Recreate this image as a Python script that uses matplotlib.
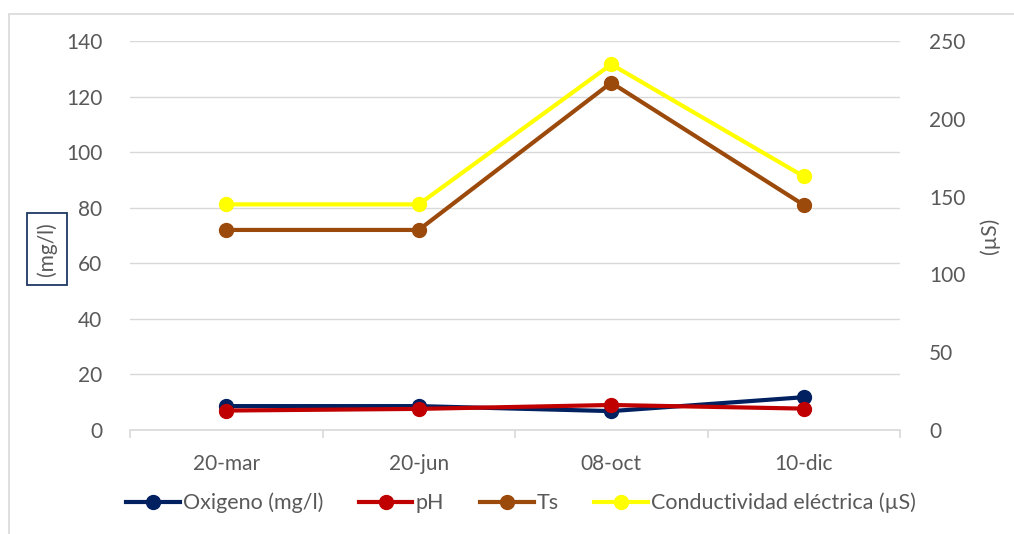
import matplotlib
matplotlib.use("Agg")
import matplotlib.pyplot as plt
from matplotlib.patches import Rectangle
from matplotlib.lines import Line2D

plt.rcParams['font.family'] = ['Lato', 'DejaVu Sans']

categories = ["20-mar", "20-jun", "08-oct", "10-dic"]
oxigeno = [8.6, 8.6, 6.8, 11.8]
ph = [7.0, 7.6, 9.0, 7.7]
ts = [72, 72, 125, 81]
conductividad = [145, 145, 235, 163]

left_ticks = [0, 20, 40, 60, 80, 100, 120, 140]
right_ticks = [0, 50, 100, 150, 200, 250]

C_OX = "#002060"
C_PH = "#C00000"
C_TS = "#9C4A0C"
C_CE = "#FFFF00"
GRID = "#D9D9D9"
TXT = "#595959"

W, H = 1014, 534
fig = plt.figure(figsize=(W / 100, H / 100), dpi=100)
ax = fig.add_axes([130 / W, 1 - 430 / H, 770 / W, 389 / H])
ax2 = ax.twinx()

x = list(range(len(categories)))
lw = 3.0
ms = 10
ax.plot(x, oxigeno, color=C_OX, lw=lw, marker='o', ms=ms, zorder=3, solid_capstyle='round')
ax.plot(x, ph, color=C_PH, lw=lw, marker='o', ms=ms, zorder=4, solid_capstyle='round')
ax.plot(x, ts, color=C_TS, lw=lw, marker='o', ms=ms, zorder=5, solid_capstyle='round')
ax2.plot(x, conductividad, color=C_CE, lw=lw, marker='o', ms=ms, zorder=5, solid_capstyle='round')

ax.set_xlim(-0.5, len(categories) - 0.5)
ax.set_ylim(0, 140)
ax2.set_ylim(0, 250)
ax.set_yticks(left_ticks)
ax2.set_yticks(right_ticks)
ax.set_xticks(x)
ax.set_xticklabels(categories)
ax.set_xticks([i - 0.5 for i in range(len(categories) + 1)], minor=True)

ax.grid(axis='y', color=GRID, lw=1.0, zorder=0)
ax.set_axisbelow(True)
for s in ['left', 'right', 'top']:
    ax.spines[s].set_visible(False)
    ax2.spines[s].set_visible(False)
ax2.spines['bottom'].set_visible(False)
ax.spines['bottom'].set_color(GRID)
ax.spines['bottom'].set_linewidth(1.2)

FS = 15
ax.tick_params(axis='x', which='major', length=0, pad=17, labelsize=FS, labelcolor=TXT)
ax.tick_params(axis='x', which='minor', length=6, color=GRID, width=1.2)
ax.tick_params(axis='y', length=0, pad=20, labelsize=FS, labelcolor=TXT)
ax2.tick_params(axis='y', length=0, pad=21, labelsize=FS, labelcolor=TXT)

fig.text(47 / W, 1 - 249 / H, "(mg/l)", rotation=90, ha='center', va='center',
         fontsize=FS, color=TXT,
         bbox=dict(boxstyle='square,pad=0.45', fc='white', ec='#1F3864', lw=1.3))
fig.text(990 / W, 1 - 236 / H, "(µS)", rotation=90, ha='center', va='center',
         fontsize=FS, color=TXT)

handles = [Line2D([], [], color=c, lw=lw, marker='o', ms=ms) for c in [C_OX, C_PH, C_TS, C_CE]]
labels = ["Oxigeno (mg/l)", "pH", "Ts", "Conductividad eléctrica (µS)"]
leg = fig.legend(handles, labels, loc='center', bbox_to_anchor=(521 / W, 1 - 503 / H), ncol=4,
                 frameon=False, fontsize=15.5, handlelength=2.5, handletextpad=0.15,
                 columnspacing=1.65, labelcolor=TXT)

fig.patches.append(Rectangle((9 / W, -0.2), 1.0, 1.2 - 14 / H, transform=fig.transFigure,
                             fill=False, ec=GRID, lw=1.2))

fig.savefig("out.png", dpi=100)
